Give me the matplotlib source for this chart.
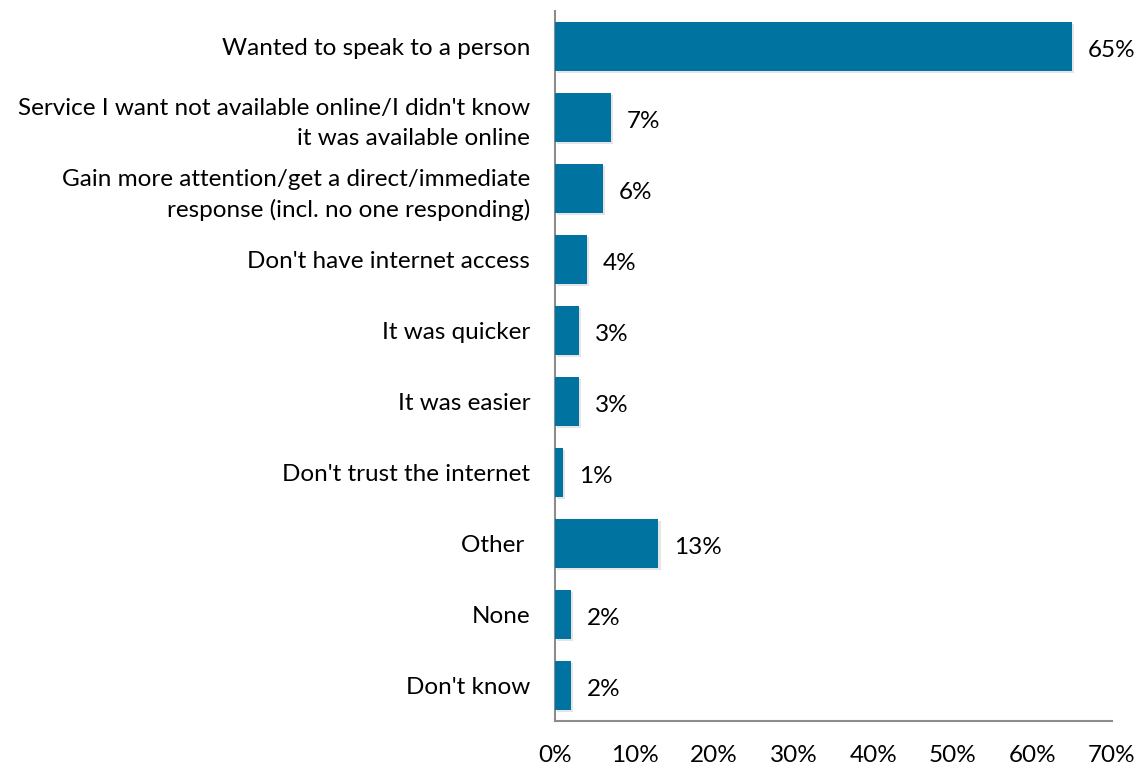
import matplotlib
matplotlib.use('Agg')
import matplotlib.pyplot as plt
import matplotlib.patheffects as pe
import numpy as np

plt.rcParams['font.family'] = ['Lato', 'DejaVu Sans']

# categories top to bottom
reasons = ["Wanted to speak to a person",
           "Service I want not available online/I didn't know\nit was available online",
           "Gain more attention/get a direct/immediate\nresponse (incl. no one responding)",
           "Don't have internet access",
           "It was quicker",
           "It was easier",
           "Don't trust the internet",
           "Other ",
           "None",
           "Don't know"]
shares = [65, 7, 6, 4, 3, 3, 1, 13, 2, 2]

fig = plt.figure(figsize=(11.43, 7.69), dpi=100)
ax = fig.add_axes([0.4856, 0.0624, 0.4873, 0.9233])

y = np.arange(len(reasons))
bars = ax.barh(y, shares, height=0.70, color='#0073A0', zorder=3)
for b in bars:
    b.set_path_effects([pe.SimplePatchShadow(offset=(1.5, -1.5), shadow_rgbFace='#999999', alpha=0.25), pe.Normal()])

for yi, v in zip(y, shares):
    ax.text(v + 2.0, yi + 0.05, f"{v}%", va='center', ha='left', fontsize=17.5, color='black')

ax.set_ylim(len(reasons) - 0.5, -0.5)
ax.set_xlim(0, 70)
ax.set_xticks(range(0, 71, 10))
ax.set_xticklabels([f"{t}%" for t in range(0, 71, 10)], fontsize=17.5)
ax.set_yticks(y)
ax.set_yticklabels(reasons, fontsize=17.5, linespacing=1.5)
ax.tick_params(axis='both', length=0)
ax.tick_params(axis='x', pad=17)
ax.tick_params(axis='y', pad=18)

for s in ['top', 'right']:
    ax.spines[s].set_visible(False)
for s in ['left', 'bottom']:
    ax.spines[s].set_color('#8c8c8c')
    ax.spines[s].set_linewidth(1.5)

fig.savefig('out.png', dpi=100)
